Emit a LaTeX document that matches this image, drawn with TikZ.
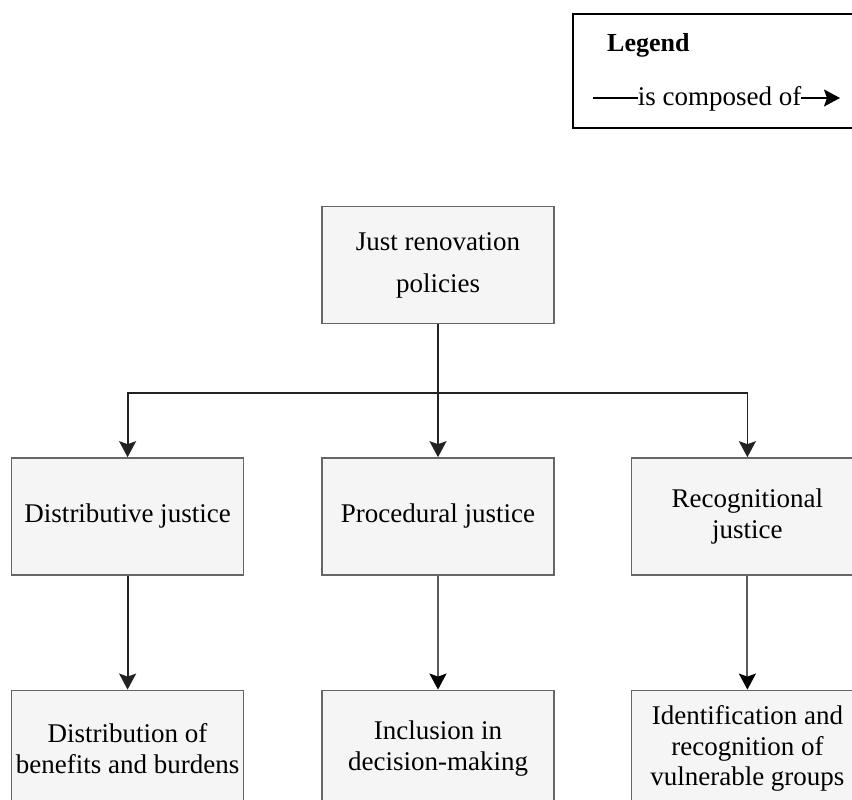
\documentclass[tikz,border=0pt]{standalone}
\usepackage{fontspec}
\setmainfont{Liberation Serif}
\usepackage{xcolor}
\usetikzlibrary{arrows.meta, positioning}
\definecolor{boxfill}{RGB}{245, 245, 245}
\definecolor{boxline}{RGB}{102, 102, 102}
\definecolor{darkline}{RGB}{34, 34, 34}
\definecolor{greyline}{RGB}{90, 90, 90}

\begin{document}
\begin{tikzpicture}[
    x=1pt, y=1pt,
    concept/.style={rectangle, draw=boxline, fill=boxfill, line width=1.4pt, minimum width=232pt, minimum height=117pt, align=center, font=\fontsize{27}{30.5}\selectfont, inner sep=2pt},
    arr/.style={-{Stealth[length=16pt, width=17pt, inset=3pt]}, line width=1.8pt, color=darkline},
    garr/.style={-{Stealth[length=16pt, width=17pt, inset=3pt, color=black]}, line width=2pt, color=greyline},
    legendtext/.style={font=\fontsize{27}{30}\selectfont, inner sep=0pt}
]
\useasboundingbox (0,0) rectangle (852,800);

% Legend
\node[rectangle, draw=black, line width=1.4pt, minimum width=307pt, minimum height=114pt] (legend) at (726.5,729) {};
\node[legendtext, font=\fontsize{26}{30}\selectfont\bfseries, anchor=base west] (legtitle) at (607,748) {Legend};
\node[legendtext, anchor=base] (legtext) at (719.5,694) {is composed of};
\coordinate (legstart) at (593,702);
\coordinate (legend end) at (840,702);
\draw[line width=1.6pt] (legstart) -- (legstart -| legtext.west);
\draw[arr, color=black] (legend end -| legtext.east) -- (legend end);

% Top node
\node[concept, font=\fontsize{27}{42}\selectfont] (policy) at (438,535) {Just renovation\\policies};

% Row 2: forms of justice
\node[concept, below=133pt of policy] (proc) {Procedural justice};
\node[concept, left=77pt of proc] (distr) {Distributive justice};
\node[concept, right=76pt of proc] (recog) {Recognitional\\justice};

% Row 3: what they are composed of
\node[concept, below=114pt of distr] (burdens) {Distribution of\\benefits and burdens};
\node[concept, below=114pt of proc] (incl) {Inclusion in\\decision-making};
\node[concept, below=114pt of recog] (vuln) {Identification and\\recognition of\\vulnerable groups};

% Arrows
\coordinate[below=69pt of policy.south] (split);
\draw[arr] (policy) -- (proc);
\draw[arr] (split) -| (distr);
\draw[arr] (split) -| (recog);
\draw[arr] (distr) -- (burdens);
\draw[garr] (proc) -- (incl);
\draw[garr] (recog) -- (vuln);

\end{tikzpicture}
\end{document}
